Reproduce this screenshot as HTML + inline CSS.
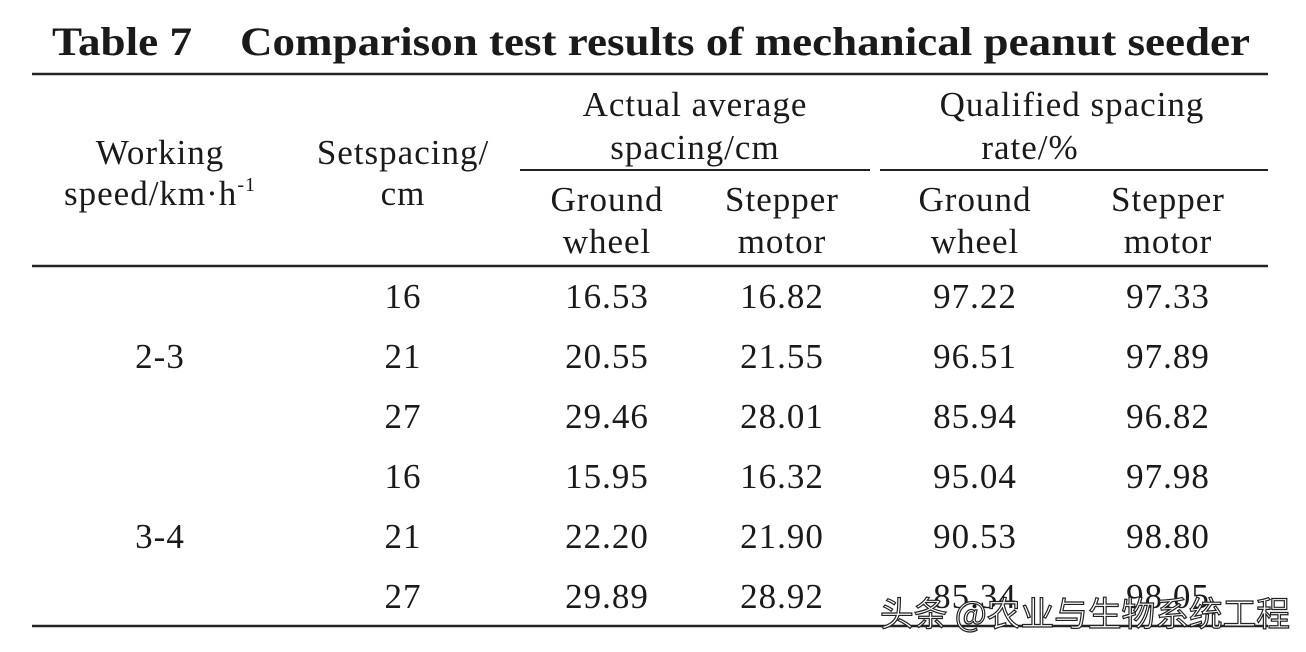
<!DOCTYPE html>
<html><head><meta charset="utf-8"><style>
html,body{margin:0;padding:0;background:#fff;}
svg{display:block}
text{font-family:"Liberation Serif",serif;fill:#1a1a1a;}
.c{text-anchor:middle;font-size:35px;letter-spacing:1px}
</style></head><body>
<svg width="1306" height="652" viewBox="0 0 1306 652">
<rect width="1306" height="652" fill="#fff"/>
<text x="52" y="55" font-size="40" font-weight="bold" textLength="140" lengthAdjust="spacingAndGlyphs">Table 7</text>
<text x="240" y="55" font-size="40" font-weight="bold" textLength="1010" lengthAdjust="spacingAndGlyphs">Comparison test results of mechanical peanut seeder</text>
<g stroke="#222" fill="none">
<line x1="32" y1="74" x2="1268" y2="74" stroke-width="2.5"/>
<line x1="520" y1="170" x2="870" y2="170" stroke-width="2"/>
<line x1="880" y1="170" x2="1268" y2="170" stroke-width="2"/>
<line x1="32" y1="266" x2="1268" y2="266" stroke-width="2.5"/>
<line x1="32" y1="626" x2="1268" y2="626" stroke-width="2.5"/>
</g>
<g class="c">
<text class="c" x="695" y="116">Actual average</text>
<text class="c" x="695" y="159">spacing/cm</text>
<text class="c" x="1072" y="116">Qualified spacing</text>
<text class="c" x="1030" y="159">rate/%</text>
<text class="c" x="160" y="164">Working</text>
<text class="c" x="160" y="205">speed/km·h<tspan font-size="20" dy="-14">-1</tspan></text>
<text class="c" x="403" y="164">Setspacing/</text>
<text class="c" x="403" y="205">cm</text>
<text class="c" x="607" y="211">Ground</text>
<text class="c" x="607" y="253">wheel</text>
<text class="c" x="782" y="211">Stepper</text>
<text class="c" x="782" y="253">motor</text>
<text class="c" x="975" y="211">Ground</text>
<text class="c" x="975" y="253">wheel</text>
<text class="c" x="1168" y="211">Stepper</text>
<text class="c" x="1168" y="253">motor</text>
<text class="c" x="160" y="368">2-3</text>
<text class="c" x="160" y="548">3-4</text>
<text class="c" x="403" y="308">16</text><text class="c" x="607" y="308">16.53</text><text class="c" x="782" y="308">16.82</text><text class="c" x="975" y="308">97.22</text><text class="c" x="1168" y="308">97.33</text>
<text class="c" x="403" y="368">21</text><text class="c" x="607" y="368">20.55</text><text class="c" x="782" y="368">21.55</text><text class="c" x="975" y="368">96.51</text><text class="c" x="1168" y="368">97.89</text>
<text class="c" x="403" y="428">27</text><text class="c" x="607" y="428">29.46</text><text class="c" x="782" y="428">28.01</text><text class="c" x="975" y="428">85.94</text><text class="c" x="1168" y="428">96.82</text>
<text class="c" x="403" y="488">16</text><text class="c" x="607" y="488">15.95</text><text class="c" x="782" y="488">16.32</text><text class="c" x="975" y="488">95.04</text><text class="c" x="1168" y="488">97.98</text>
<text class="c" x="403" y="548">21</text><text class="c" x="607" y="548">22.20</text><text class="c" x="782" y="548">21.90</text><text class="c" x="975" y="548">90.53</text><text class="c" x="1168" y="548">98.80</text>
<text class="c" x="403" y="608">27</text><text class="c" x="607" y="608">29.89</text><text class="c" x="782" y="608">28.92</text><text class="c" x="975" y="608">85.34</text><text class="c" x="1168" y="608">98.05</text>
</g>
<text x="880" y="626" font-size="34" style="font-family:'Noto Sans CJK SC',sans-serif;fill:#fff;stroke:#222;stroke-width:1.2" textLength="410" lengthAdjust="spacingAndGlyphs">头条 @农业与生物系统工程</text>
</svg>
</body></html>
